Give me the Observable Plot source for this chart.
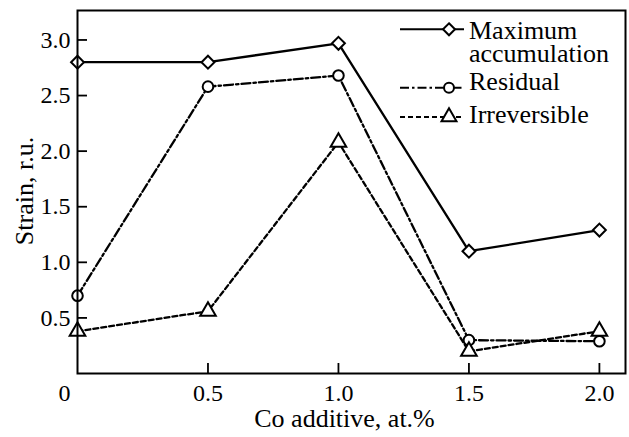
<!DOCTYPE html>
<html><head><meta charset="utf-8">
<script src="https://cdn.jsdelivr.net/npm/d3@7"></script>
<script src="https://cdn.jsdelivr.net/npm/@observablehq/plot@0.6"></script>
<style>body{margin:0;background:#fff} svg{display:block}</style>
</head><body><div id="chart"></div>
<script>
const coAdditive = [0, 0.5, 1.0, 1.5, 2.0];
const maxAccumulation = [2.8, 2.8, 2.97, 1.1, 1.29];
const residual = [0.7, 2.58, 2.68, 0.3, 0.29];
const irreversible = [0.38, 0.56, 2.08, 0.2, 0.38];
const seriesNames = ["Maximum accumulation", "Residual", "Irreversible"];
const xTicks = [0, 0.5, 1.0, 1.5, 2.0];
const xTickLabels = ["0", "0.5", "1.0", "1.5", "2.0"];
const yTicks = [0.5, 1.0, 1.5, 2.0, 2.5, 3.0];
const yTickLabels = ["0.5", "1.0", "1.5", "2.0", "2.5", "3.0"];
const xLabel = "Co additive, at.%";
const yLabel = "Strain, r.u.";

const seriesValues = [maxAccumulation, residual, irreversible];
const styles = [
  {symbol: "diamond2", r: 5.8, dash: null, legendSymbol: d3.symbolDiamond2, legendSize: 92},
  {symbol: "circle", r: 5.3, dash: "9,3,2.5,3", legendSymbol: d3.symbolCircle, legendSize: 78},
  {symbol: "triangle", r: 5.8, dash: "5,3", legendSymbol: d3.symbolTriangle, legendSize: 97}
];
const rows = seriesNames.flatMap((name, s) =>
  coAdditive.map((x, i) => ({series: name, x, y: seriesValues[s][i]})));

const W = 629, H = 437;
const M = {top: 10, right: 4, bottom: 64, left: 77};
const font = "'Liberation Serif', 'Times New Roman', serif";

const lineMarks = seriesNames.map((name, s) =>
  Plot.line(rows.filter(d => d.series === name), {x: "x", y: "y", stroke: "black", strokeWidth: 2.3,
    strokeDasharray: styles[s].dash, strokeLinejoin: "miter"}));
const dotMarks = seriesNames.map((name, s) =>
  Plot.dot(rows.filter(d => d.series === name), {x: "x", y: "y",
    symbol: styles[s].symbol, r: styles[s].r, stroke: "black", fill: "white", strokeWidth: 2}));

const plot = Plot.plot({
  width: W, height: H,
  marginTop: M.top, marginRight: M.right, marginBottom: M.bottom, marginLeft: M.left,
  style: {fontFamily: font, fontSize: "24px", background: "white", color: "black"},
  x: {domain: [0, 2.1], label: null},
  y: {domain: [0, 3.265], label: null},
  marks: [
    ...lineMarks,
    ...dotMarks,
    Plot.frame({stroke: "black", strokeWidth: 2}),
    Plot.axisY(yTicks, {anchor: "left", tickSize: 10, dx: 10, tickPadding: 7, strokeWidth: 1.8,
      tickFormat: d => yTickLabels[yTicks.indexOf(d)], fontSize: 24}),
    Plot.axisX(xTicks.slice(1), {anchor: "bottom", tickSize: 10, dy: -10, tickPadding: 10, strokeWidth: 1.8,
      tickFormat: d => xTickLabels[xTicks.indexOf(d)], fontSize: 24}),
    Plot.axisX(xTicks.slice(0, 1), {anchor: "bottom", tickSize: 0, dx: -13, tickPadding: 10,
      tickFormat: d => xTickLabels[xTicks.indexOf(d)], fontSize: 24}),
    Plot.text([xLabel], {frameAnchor: "bottom", textAnchor: "middle", dx: -7, dy: 45, lineAnchor: "middle", fontSize: 26, text: d => d}),
    Plot.text([yLabel], {frameAnchor: "left", textAnchor: "middle", dx: -53, dy: -1, rotate: -90, lineAnchor: "middle", fontSize: 26, text: d => d})
  ]
});
document.getElementById("chart").appendChild(plot);

// legend inside the frame, top-right
const svg = d3.select(plot);
const fx = W - M.right, fy = M.top;
const legendLayout = [
  {lineDy: 19.3, textDy: 29},
  {lineDy: 77.7, textDy: 80},
  {lineDy: 107, textDy: 113}
];
const g = svg.append("g").attr("class", "legend").attr("text-anchor", "start");
seriesNames.forEach((name, s) => {
  const L = legendLayout[s], st = styles[s];
  const ly = fy + L.lineDy;
  g.append("line").attr("x1", fx - 225).attr("x2", fx - 161).attr("y1", ly).attr("y2", ly)
    .attr("stroke", "black").attr("stroke-width", 2)
    .attr("stroke-dasharray", st.dash);
  g.append("path").attr("d", d3.symbol(st.legendSymbol, st.legendSize)())
    .attr("transform", `translate(${fx - 176},${ly})`)
    .attr("fill", "white").attr("stroke", "black").attr("stroke-width", 2);
  const t = g.append("text").attr("x", fx - 156).attr("y", fy + L.textDy)
    .attr("text-anchor", "start")
    .attr("font-family", font).attr("font-size", 26).attr("fill", "black");
  name.split(" ").forEach((w, k) => {
    t.append("tspan").attr("x", fx - 156).attr("dy", k === 0 ? 0 : 23).text(w);
  });
});
</script>
</body></html>
